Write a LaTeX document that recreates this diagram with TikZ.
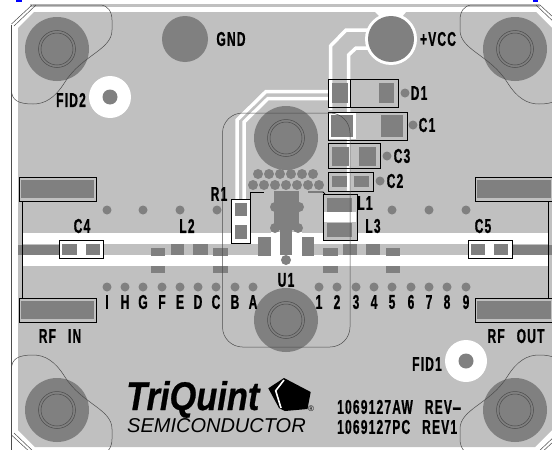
\documentclass[tikz,border=0pt]{standalone}
\usepackage{xcolor}
\usepackage{fontspec}
\newfontfamily\pcbfont[FakeStretch=0.6,LetterSpace=6,FakeBold=0.8]{Liberation Sans}
\newfontfamily\logofont[FakeStretch=0.86,FakeBold=0.6]{Liberation Sans}
\newfontfamily\subfont{Liberation Sans}
\definecolor{boardgray}{HTML}{C0C0C0}
\definecolor{copper}{HTML}{808080}
\tikzset{
  pad/.style={fill=copper},
  via/.style={fill=copper},
  hole/.style={fill=copper},
  partbox/.style={draw=black,line width=0.9pt},
  fine/.style={draw=black!70,line width=0.5pt},
  track/.style={draw=white,line width=3.5pt},
  silk/.style={font=\pcbfont\fontsize{20}{20}\selectfont\bfseries,text=black,inner sep=0pt},
}
\newcommand{\mounthole}[2]{
  \fill[hole] (#1,#2) circle (32);
  \draw[fine] (#1,#2) circle (18.5);
  \draw[fine] (#1,#2) circle (16);
}
\begin{document}
\begin{tikzpicture}[x=1pt,y=-1pt]
        \useasboundingbox (0,0) rectangle (552,450);
        \clip (0,0) rectangle (552,450);
        \fill[white] (0,0) rectangle (552,450);
        \fill[blue] (16,0) rectangle (22,1.5);
        \fill[blue] (533,0) rectangle (538,1.5);
        \fill[boardgray] (30,4) rectangle (540,6.5);
        \draw[black!70,line width=0.6pt] (11.5,25) -- (11.5,450);
        % board
        \fill[boardgray] (18,28) -- (34,12) -- (536,12) -- (552,28) -- (552,430) -- (535,447) -- (35,447) -- (18,430) -- cycle;
        % rf band
        \fill[white] (23,233) rectangle (548.5,266);
        \fill[boardgray] (23,244) rectangle (548.5,255);
        \fill[white] (271,232) rectangle (302,256);
        \fill[pad] (18,245) rectangle (59,255);
        \fill[pad] (512,245) rectangle (552,255);
        % bias tracks
        \fill[white] (375,12) -- (381,18) -- (401,18) -- (406,12) -- cycle;
        \fill[white] (391,39) circle (26);
        \draw[track] (369,30) -- (346,30) -- (330.5,46) -- (330.5,110);
        \draw[track] (370,48) -- (356,48) -- (348.5,55) -- (348.5,191);
        \draw[track] (328,91.5) -- (266,91.5) -- (237,120) -- (237,200);
        \draw[track] (328,98.5) -- (268,98.5) -- (244,122) -- (244,200);
        \fill[hole] (185,39) circle (23);
        \fill[hole] (391,39) circle (23);
        % fiducials
        \fill[white] (110,97) circle (21);
        \fill[via] (110,97) circle (7.5);
        \fill[white] (466,361) circle (21);
        \fill[via] (466,361) circle (7.5);
        % mounting holes
        \mounthole{57}{49}
        \mounthole{515}{49}
        \mounthole{57}{410}
        \mounthole{515}{410}
        \mounthole{286}{138}
        \mounthole{286}{320}
        % vias
        \foreach \x in {258,269,280,291,302,313} \fill[via] (\x,174) circle (5);
        \foreach \x in {253,264,275,286,297,308,319} \fill[via] (\x,185) circle (5);
        \foreach \x in {107,143,180,217,392,429,466} \fill[via] (\x,210) circle (4.5);
        \foreach \x in {107,125,143,162,180,198,216,235,253,319,337,356,374,392,411,429,447,466} \fill[via] (\x,287) circle (4.5);
        \foreach \x/\y in {405/93,413/125,387/156,380/181} \fill[via] (\x,\y) circle (4.5);
        % device
        \fill[pad] (274,191) rectangle (299,230);
        \fill[pad] (280,228) rectangle (292,255);
        \foreach \x/\y in {275/207,299/207,275/228,298/228} \fill[via] (\x,\y) circle (5);
        \fill[via] (286,260) circle (5);
        \fill[pad] (258,237) rectangle (271,256);
        \fill[pad] (302,237) rectangle (314,256);
        % rf pads
        \foreach \a/\b in {171/184,193/208,343/357,366/380} \fill[pad] (\a,244) rectangle (\b,255);
        \foreach \a/\b in {151/165,213/228,323/338,386/400} {
          \fill[pad] (\a,248) rectangle (\b,256);
          \fill[pad] (\a,266) rectangle (\b,273);
        }
        % parts
        \draw[partbox,fill=white] (59,240) rectangle (103,258);
        \fill[pad] (62,244) rectangle (77,255);
        \fill[pad] (86,244) rectangle (100,255);
        \draw[partbox,fill=white] (468,240) rectangle (512,258);
        \fill[pad] (471,244) rectangle (485,255);
        \fill[pad] (494,244) rectangle (508,255);
        \draw[partbox,fill=white] (231,199) rectangle (250,243);
        \fill[pad] (235,203) rectangle (247,216);
        \fill[pad] (235,225) rectangle (247,239);
        \draw[partbox,fill=boardgray] (323,194) rectangle (357,240);
        \fill[white] (324,212) rectangle (356,222);
        \fill[pad] (327,198) rectangle (352,212);
        \fill[pad] (327,223) rectangle (352,237);
        \draw[partbox] (250,199) -- (250,192) -- (264,192);
        \draw[partbox] (308,192) -- (323,192) -- (325,194);
        \draw[partbox] (328,79) rectangle (398,107);
        \draw[partbox] (350,79) -- (350,107);
        \fill[pad] (332,83) rectangle (348,103);
        \fill[pad] (379,83) rectangle (394,103);
        \fill[white] (329,113) rectangle (356,139);
        \draw[partbox] (328,112) rectangle (407,140);
        \fill[pad] (331,115) rectangle (353,137);
        \fill[pad] (381,115) rectangle (403,137);
        \draw[partbox] (328,143) rectangle (380,168);
        \fill[pad] (332,147) rectangle (349,166);
        \fill[pad] (359,147) rectangle (376,166);
        \draw[partbox] (328,172) rectangle (373,191);
        \fill[pad] (332,176) rectangle (347,187);
        \fill[pad] (354,176) rectangle (369,187);
        % launch pads
        \foreach \a/\b/\c/\d in {19/96/177/201,19/96/298/322,475/553/177/201,475/553/298/322} {
          \draw[partbox,fill=boardgray] (\a,\c) rectangle (\b,\d);
          \fill[pad] (\a+2,\c+3) rectangle (\b-2,\d-3);
        }
        \draw[partbox] (22.5,201) -- (22.5,298);
        \draw[partbox] (548.5,201) -- (548.5,298);
        % outlines
        \draw[fine,rounded corners=20] (222.5,113) rectangle (350,347);
        \foreach \sx/\ox in {1/0,-1/572} \foreach \sy/\oy in {1/0,-1/459} {
          \draw[fine] (\ox+\sx*33,\oy+\sy*5) -- (\ox+\sx*100,\oy+\sy*5)
            .. controls (\ox+\sx*108,\oy+\sy*5) and (\ox+\sx*112,\oy+\sy*12) .. (\ox+\sx*112,\oy+\sy*20)
            -- (\ox+\sx*112,\oy+\sy*30)
            .. controls (\ox+\sx*112,\oy+\sy*50) and (\ox+\sx*82,\oy+\sy*55) .. (\ox+\sx*65,\oy+\sy*82)
            .. controls (\ox+\sx*55,\oy+\sy*98) and (\ox+\sx*45,\oy+\sy*104) .. (\ox+\sx*33,\oy+\sy*104)
            .. controls (\ox+\sx*18,\oy+\sy*104) and (\ox+\sx*11.5,\oy+\sy*100) .. (\ox+\sx*11.5,\oy+\sy*90);
          \draw[fine] (\ox+\sx*11.5,\oy+\sy*24) -- (\ox+\sx*32,\oy+\sy*5);
          \draw[fine] (\ox+\sx*14,\oy+\sy*26) -- (\ox+\sx*36,\oy+\sy*5);
        }
        % silk
        \node[silk] (gnd) at (231,39) {GND};
        \node[silk] (vcc) at (438,39) {+VCC};
        \node[silk] (fid2) at (71,100) {FID2};
        \node[silk] (fid1) at (427,364) {FID1};
        \node[silk] (d1) at (419,93) {D1};
        \node[silk] (c1) at (427,125) {C1};
        \node[silk] (c3) at (402,156) {C3};
        \node[silk] (c2) at (395,181) {C2};
        \node[silk] (r1) at (219,194) {R1};
        \node[silk] (l1) at (365,203) {L1};
        \node[silk] (l2) at (187,226) {L2};
        \node[silk] (l3) at (373,226) {L3};
        \node[silk] (c4) at (82,226) {C4};
        \node[silk] (c5) at (483,226) {C5};
        \node[silk] (u1) at (286,280) {U1};
        \foreach \x/\t in {107/I,125/H,143/G,162/F,180/E,198/D,216/C,235/B,253/A,319/1,337/2,356/3,374/4,392/5,411/6,429/7,447/8,466/9}
          \node[silk] (pin\t) at (\x,302) {\t};
        \node[silk] (rfin) at (60,336) {RF\hspace{12pt}IN};
        \node[silk] (rfout) at (516,336) {RF\hspace{12pt}OUT};
        \node[silk,anchor=west] (aw) at (337,407) {1069127AW\hspace{12pt}REV\scalebox{2.4}[1]{-}};
        \node[silk,anchor=west] (pc) at (337,427) {1069127PC\hspace{12pt}REV1};
        % logo
        \node[inner sep=0pt,anchor=base west,text depth=0pt,font=\logofont\fontsize{40}{40}\selectfont\bfseries\itshape] (tri) at (126,410) {TriQuint};
        \node[inner sep=0pt,anchor=base west,text depth=0pt,font=\subfont\fontsize{20}{20}\selectfont\itshape] (semi) at (127,432.5) {SEMICONDUCTOR};
        \fill[black] (268.3,388.3) -- (284,378) -- (310.7,392) -- (307.5,409) -- (285,411) -- (279,408) -- cycle;
        \draw[white,line width=1.6pt] (284,380) -- (275.7,390.7) -- (281,408);
        \node[inner sep=0pt,font=\subfont\fontsize{8}{8}\selectfont] (reg) at (311,409) {\textregistered};
      \end{tikzpicture}
\end{document}
